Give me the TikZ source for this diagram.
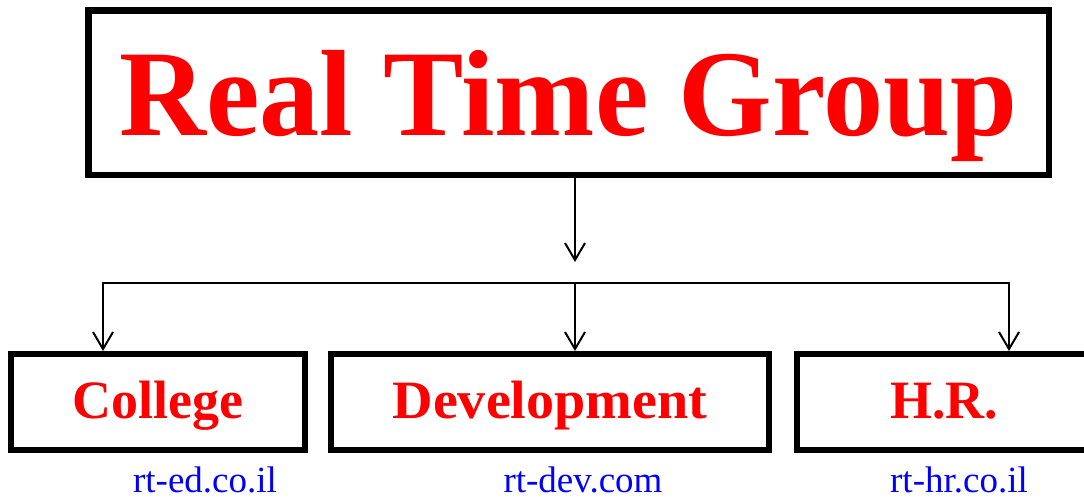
\documentclass[tikz,border=0pt]{standalone}
\usepackage{fontspec}
\setmainfont{Liberation Serif}
\usetikzlibrary{arrows.meta}
\definecolor{titlered}{RGB}{255,0,0}
\definecolor{urlblue}{RGB}{0,0,255}
\tikzset{
  titlebox/.style={draw=black, line width=6.5pt, rectangle, inner sep=0pt,
    minimum width=960.5pt, minimum height=164.5pt,
    text=titlered, font=\fontsize{118}{118}\selectfont\bfseries,
    text height=85pt, text depth=0pt},
  unitbox/.style={draw=black, line width=6pt, rectangle, inner sep=0pt,
    minimum height=96pt,
    text=titlered, font=\fontsize{54}{54}\selectfont\bfseries,
    text height=32pt, text depth=0pt},
  urltext/.style={anchor=base, inner sep=0pt, text=urlblue,
    font=\fontsize{37}{37}\selectfont},
  conn/.style={draw=black, line width=2pt},
  arr/.style={conn, -{Straight Barb[length=17pt,width=20pt,line width=2pt]}},
}
\begin{document}
\begin{tikzpicture}[x=1pt,y=-1pt]
\useasboundingbox (0,0) rectangle (1084,499);
\node[titlebox] (title) at (568.5,92.5) {\scalebox{1.02}[1.04]{Real Time Group}};
\node[unitbox, minimum width=294pt] (college) at (158,402) {College};
\node[unitbox, minimum width=438pt] (dev) at (550,402) {\scalebox{1.04}[1]{Development}};
\node[unitbox, minimum width=294pt] (hr) at (944,402) {H.R.};
\node[urltext] (urled) at (205,492) {rt-ed.co.il};
\node[urltext] (urldev) at (583,492) {rt-dev.com};
\node[urltext] (urlhr) at (959,492) {rt-hr.co.il};
\coordinate (tip) at (575,262);
\coordinate (hL) at (103,283);
\coordinate (hM) at (575,283);
\coordinate (hR) at (1009,283);
\draw[arr] (title.south -| tip) -- (tip);
\draw[conn, line cap=rect] (hL) -- (hR);
\draw[arr] (hL) -- (hL |- college.north);
\draw[arr] (hM) -- (hM |- dev.north);
\draw[arr] (hR) -- (hR |- hr.north);
\end{tikzpicture}
\end{document}
